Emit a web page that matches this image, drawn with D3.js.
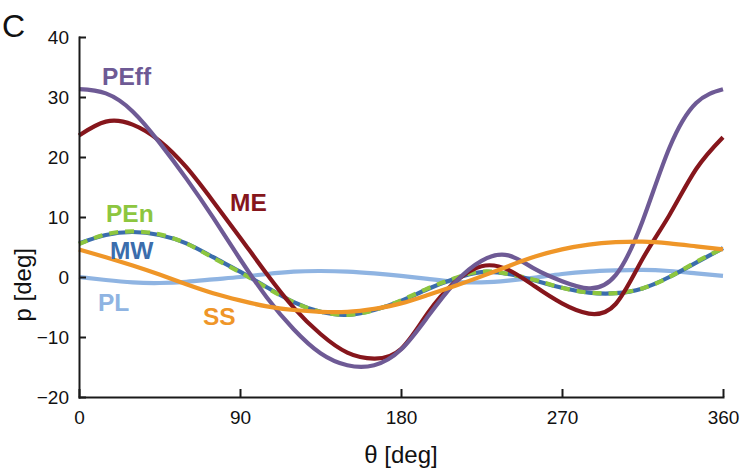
<!DOCTYPE html>
<html>
<head>
<meta charset="utf-8">
<script src="https://cdn.jsdelivr.net/npm/d3@7"></script>
<style>
  body { margin: 0; background: #fff; }
  svg { display: block; font-family: "Liberation Sans", Arial, sans-serif; }
  .axis path, .axis line { stroke: #1a1a1a; stroke-width: 2; }
  .axis text { font-size: 19px; fill: #111; font-family: "Liberation Sans", Arial, sans-serif; }
</style>
</head>
<body>
<svg id="chart" width="746" height="474"></svg>
<script>
// angle samples (deg)
const theta = [0, 15, 30, 45, 60, 75, 90, 105, 120, 135, 150, 165, 180,
               195, 210, 225, 240, 255, 270, 285, 300, 315, 330, 345, 360];

const pEff = [31.3, 30.6, 27.6, 22.4, 16.4, 9.9, 3.0, -3.4, -8.7, -12.7, -14.7, -14.7, -12.1,
              -6.6, -1.0, 2.7, 3.6, 1.3, -0.7, -1.9, 0.3, 9.3, 21.5, 29.0, 31.3];
const mE   = [23.6, 25.9, 25.4, 22.7, 18.3, 12.6, 6.6, 0.5, -5.1, -9.5, -12.6, -13.6, -12.0,
              -6.0, -0.9, 1.8, 1.2, -1.6, -4.4, -6.1, -4.5, 3.0, 10.3, 18.0, 23.3];
const mW   = [5.6, 7.0, 7.5, 7.0, 5.6, 3.3, 0.9, -1.7, -4.2, -5.8, -6.3, -5.5, -4.0,
              -2.0, -0.3, 0.8, 0.5, -0.6, -1.8, -2.6, -2.7, -1.9, 0.0, 2.4, 4.8];
const pEn  = [5.5, 7.1, 7.6, 7.1, 5.6, 3.2, 0.8, -1.8, -4.2, -5.8, -6.3, -5.5, -3.9,
              -1.9, -0.2, 0.9, 0.5, -0.5, -1.8, -2.6, -2.7, -1.9, 0.0, 2.5, 4.8];
const pL   = [0.0, -0.5, -0.9, -1.0, -0.8, -0.4, 0.0, 0.5, 0.9, 1.0, 0.9, 0.6, 0.2,
              -0.3, -0.8, -0.9, -0.6, -0.1, 0.5, 0.9, 1.1, 1.2, 1.0, 0.6, 0.2];
const sS   = [4.6, 3.3, 1.9, 0.4, -1.2, -2.7, -3.9, -4.9, -5.5, -5.8, -5.8, -5.3, -4.4,
              -3.0, -1.5, 0.1, 1.8, 3.4, 4.6, 5.4, 5.8, 5.9, 5.6, 5.1, 4.6];

const xTicks = [0, 90, 180, 270, 360];
const yTicks = [-20, -10, 0, 10, 20, 30, 40];

// drawing order: bottom first
const series = [
  { name: "PL",   values: pL,   color: "#8fb4e2", dash: null, lx: 10.6, ly: -5.7 },
  { name: "MW",   values: mW,   color: "#3b6dac", dash: null, lx: 17.3, ly: 3.0 },
  { name: "PEn",  values: pEn,  color: "#8dc63f", dash: "9,7", lx: 15.1, ly: 9.2 },
  { name: "ME",   values: mE,   color: "#86161c", dash: null, lx: 84.4, ly: 11.0 },
  { name: "PEff", values: pEff, color: "#6e5a95", dash: null, lx: 12.9, ly: 32.0 },
  { name: "SS",   values: sS,   color: "#ef9628", dash: null, lx: 69.3, ly: -8.0 }
];

const svg = d3.select("#chart");
const plotLeft = 79, plotRight = 723, plotTop = 37, plotBottom = 397;

const x = d3.scaleLinear().domain([0, 360]).range([plotLeft, plotRight]);
const y = d3.scaleLinear().domain([-20, 40]).range([plotBottom, plotTop]);

const line = d3.line()
  .x(d => x(d[0]))
  .y(d => y(d[1]))
  .curve(d3.curveNatural);

svg.append("g")
  .selectAll("path")
  .data(series)
  .enter()
  .append("path")
  .attr("d", s => line(theta.map((t, i) => [t, s.values[i]])))
  .attr("fill", "none")
  .attr("stroke", s => s.color)
  .attr("stroke-width", 4.2)
  .attr("stroke-dasharray", s => s.dash);

// axes
svg.append("g")
  .attr("class", "axis")
  .attr("transform", "translate(0," + plotBottom + ")")
  .call(d3.axisBottom(x).tickValues(xTicks).tickSizeInner(-8).tickSizeOuter(0).tickPadding(14));

svg.append("g")
  .attr("class", "axis")
  .attr("transform", "translate(" + plotLeft + ",0)")
  .call(d3.axisLeft(y).tickValues(yTicks).tickSizeInner(-7).tickSizeOuter(0).tickPadding(10));

svg.selectAll(".axis .domain").attr("stroke-linecap", "square");

// series labels
svg.append("g")
  .selectAll("text")
  .data(series)
  .enter()
  .append("text")
  .attr("x", s => x(s.lx))
  .attr("y", s => y(s.ly))
  .attr("fill", s => s.color)
  .attr("font-size", 24.5)
  .attr("font-weight", "bold")
  .text(s => s.name);

// axis titles
svg.append("text")
  .attr("x", (plotLeft + plotRight) / 2)
  .attr("y", 463)
  .attr("text-anchor", "middle")
  .attr("font-size", 24)
  .attr("fill", "#111")
  .text("θ [deg]");

svg.append("text")
  .attr("transform", "translate(31," + y(-1.3) + ") rotate(-90)")
  .attr("text-anchor", "middle")
  .attr("font-size", 24)
  .attr("fill", "#111")
  .text("p [deg]");

svg.append("text")
  .attr("x", 2)
  .attr("y", 37)
  .attr("font-size", 32)
  .attr("fill", "#111")
  .text("C");
</script>
</body>
</html>
